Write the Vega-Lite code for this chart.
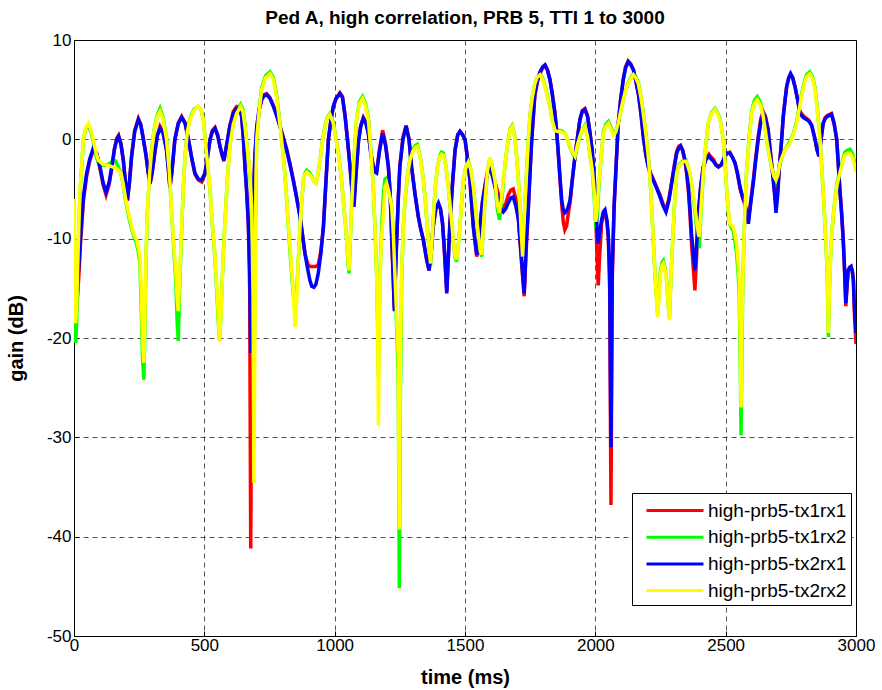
{
"$schema": "https://vega.github.io/schema/vega-lite/v6.json",
"width": 782, "height": 596,
"autosize": "none",
"padding": {"left": 74, "top": 40, "right": 26, "bottom": 54},
"background": "white",
"title": {"text": "Ped A, high correlation, PRB 5, TTI 1 to 3000", "font": "Liberation Sans", "fontSize": 19, "fontWeight": "bold", "color": "black", "offset": 3, "anchor": "middle"},
"config": {
  "view": {"stroke": "black", "strokeWidth": 1},
  "axis": {"grid": true, "gridColor": "#000000", "gridDash": [5, 4], "gridWidth": 0.8, "gridOpacity": 0.85, "domain": false, "ticks": true, "tickColor": "black", "tickSize": -5, "labelFont": "Liberation Sans", "labelFontSize": 17, "labelColor": "black", "titleFont": "Liberation Sans", "titleFontSize": 20, "titleFontWeight": "bold", "titleColor": "black"}
},
"datasets": {
"A": [
{"t":0,"b":-11,"r":-12},{"t":5,"b":-15,"r":-16.5},{"t":10,"b":-15.5,"r":-17.3},{"t":18,"b":-13,"r":-14},{"t":25,"b":-9.8,"r":-10.5},{"t":36,"b":-5.8,"r":-6.2},{"t":48,"b":-3.5,"r":-3.8},{"t":60,"b":-2,"r":-2.2},{"t":74,"b":-0.9,"r":-1.1},{"t":87,"b":-1.4,"r":-1.5},{"t":100,"b":-2.8,"r":-3},{"t":112,"b":-4.4,"r":-4.6},{"t":123,"b":-5.3,"r":-5.6},{"t":135,"b":-4.3,"r":-4.5},{"t":145,"b":-2.8,"r":-2.9},{"t":155,"b":-1,"r":-1},{"t":164,"b":0,"r":0.1},{"t":171,"b":0.3,"r":0.4},{"t":180,"b":-0.5,"r":-0.4},{"t":189,"b":-2.1,"r":-2},{"t":197,"b":-4.2,"r":-4.3},{"t":205,"b":-6.1,"r":-6.2},{"t":213,"b":-4.2,"r":-4.3},{"t":221,"b":-1.7,"r":-1.7},{"t":233,"b":0.8,"r":0.9},{"t":247,"b":2,"r":2.1},{"t":256,"b":1.5,"r":1.5},{"t":266,"b":0,"r":0.1},{"t":276,"b":-1.6,"r":-1.5},{"t":285,"b":-3.4,"r":-3.4},{"t":292,"b":-4.4,"r":-4.5},{"t":300,"b":-3.3,"r":-3.3},{"t":311,"b":-1.1,"r":-1.2},{"t":320,"b":0.4,"r":0.4},{"t":330,"b":1.1,"r":1.3},{"t":342,"b":0.6,"r":0.7},{"t":355,"b":-1.1,"r":-1.1},{"t":362,"b":-3,"r":-3},{"t":368,"b":-4.8,"r":-4.9},{"t":376,"b":-3.2,"r":-3.2},{"t":387,"b":0,"r":0},{"t":400,"b":1.6,"r":1.6},{"t":413,"b":2.2,"r":2.3},{"t":426,"b":1.6,"r":1.7},{"t":439,"b":0,"r":0},{"t":452,"b":-1.9,"r":-2},{"t":464,"b":-3.4,"r":-3.5},{"t":477,"b":-4,"r":-4.1},{"t":490,"b":-4.1,"r":-4.3},{"t":502,"b":-3.4,"r":-3.6},{"t":512,"b":-1.8,"r":-1.9},{"t":522,"b":0,"r":0},{"t":531,"b":0.8,"r":0.9},{"t":541,"b":1.1,"r":1.2},{"t":552,"b":0.3,"r":0.4},{"t":560,"b":-0.7,"r":-0.7},{"t":568,"b":-1.5,"r":-1.6},{"t":575,"b":-2.1,"r":-2.2},{"t":586,"b":-0.5,"r":-0.5},{"t":598,"b":1.3,"r":1.4},{"t":611,"b":2.6,"r":2.8},{"t":624,"b":3.1,"r":3.3},{"t":634,"b":3.1,"r":3.3},{"t":643,"b":2.3,"r":2.5},{"t":650,"b":0,"r":0},{"t":656,"b":-2.8,"r":-2.7},{"t":663,"b":-5.5,"r":-5.5},{"t":669,"b":-8.5,"r":-8.7},{"t":674,"b":-13,"r":-15},{"t":678,"b":-21.5,"r":-41.2},{"t":682,"b":-14,"r":-20},{"t":688,"b":-6,"r":-7},{"t":694,"b":-1.5,"r":-2},{"t":701,"b":1.3,"r":1},{"t":710,"b":3,"r":2.9},{"t":720,"b":4,"r":4},{"t":730,"b":4.4,"r":4.5},{"t":739,"b":4.5,"r":4.6},{"t":752,"b":4.1,"r":4.2},{"t":765,"b":3.3,"r":3.4},{"t":777,"b":2.4,"r":2.5},{"t":790,"b":1.3,"r":1.4},{"t":803,"b":0.1,"r":0.2},{"t":816,"b":-1.1,"r":-1},{"t":828,"b":-2.5,"r":-2.4},{"t":841,"b":-4.1,"r":-4},{"t":854,"b":-5.9,"r":-5.8},{"t":867,"b":-7.8,"r":-7.7},{"t":876,"b":-9.5,"r":-9.5},{"t":886,"b":-11.5,"r":-11.5},{"t":896,"b":-13,"r":-12.5},{"t":905,"b":-14.2,"r":-12.8},{"t":912,"b":-14.8,"r":-12.8},{"t":920,"b":-14.9,"r":-12.8},{"t":928,"b":-14.6,"r":-12.8},{"t":937,"b":-13.5,"r":-12.6},{"t":947,"b":-11.5,"r":-11.3},{"t":957,"b":-8.8,"r":-8.7},{"t":966,"b":-4.5,"r":-4.5},{"t":976,"b":0,"r":0},{"t":986,"b":2,"r":2},{"t":995,"b":3.3,"r":3.3},{"t":1005,"b":4.1,"r":4.1},{"t":1020,"b":4.6,"r":4.7},{"t":1030,"b":4.2,"r":4.3},{"t":1040,"b":2.3,"r":2.4},{"t":1050,"b":-0.3,"r":-0.2},{"t":1059,"b":-2.8,"r":-2.8},{"t":1066,"b":-5,"r":-5},{"t":1074,"b":-6.8,"r":-6.6},{"t":1082,"b":-3.5,"r":-3.4},{"t":1091,"b":-0.3,"r":-0.3},{"t":1100,"b":1.3,"r":1.4},{"t":1110,"b":2.1,"r":2.2},{"t":1120,"b":1.6,"r":1.7},{"t":1129,"b":0.6,"r":0.7},{"t":1138,"b":-1.3,"r":-1.2},{"t":1148,"b":-2.8,"r":-2.7},{"t":1155,"b":-3.3,"r":-3.2},{"t":1161,"b":-3.4,"r":-3.2},{"t":1172,"b":-1.2,"r":-1},{"t":1184,"b":0.6,"r":0.9},{"t":1195,"b":-0.6,"r":-0.4},{"t":1206,"b":-2.8,"r":-2.7},{"t":1213,"b":-5.5,"r":-5.5},{"t":1219,"b":-10.1,"r":-10},{"t":1224,"b":-13.5,"r":-13.5},{"t":1229,"b":-17.3,"r":-17},{"t":1234,"b":-13,"r":-13},{"t":1238,"b":-10.1,"r":-10},{"t":1244,"b":-6,"r":-6},{"t":1250,"b":-2.8,"r":-2.7},{"t":1262,"b":0,"r":0.2},{"t":1274,"b":1.3,"r":1.4},{"t":1285,"b":0,"r":0.1},{"t":1295,"b":-2.8,"r":-2.7},{"t":1308,"b":-5.5,"r":-5.4},{"t":1321,"b":-7.8,"r":-7.8},{"t":1330,"b":-9,"r":-9},{"t":1340,"b":-10.1,"r":-10.1},{"t":1352,"b":-12,"r":-12},{"t":1362,"b":-13.2,"r":-13.2},{"t":1370,"b":-11.5,"r":-11.5},{"t":1378,"b":-8.8,"r":-8.8},{"t":1388,"b":-7,"r":-7},{"t":1398,"b":-6.4,"r":-6.5},{"t":1406,"b":-7,"r":-7},{"t":1414,"b":-8.5,"r":-8.5},{"t":1422,"b":-11.5,"r":-11.8},{"t":1430,"b":-15.5,"r":-15.3},{"t":1436,"b":-12,"r":-12},{"t":1442,"b":-8.5,"r":-8.5},{"t":1452,"b":-4.5,"r":-4.5},{"t":1462,"b":-1.1,"r":-1},{"t":1472,"b":0.4,"r":0.5},{"t":1481,"b":0.8,"r":0.8},{"t":1490,"b":0.5,"r":0.5},{"t":1500,"b":0,"r":0},{"t":1510,"b":-2,"r":-2},{"t":1519,"b":-4.1,"r":-4.2},{"t":1532,"b":-8.8,"r":-8.8},{"t":1545,"b":-11.6,"r":-11.8},{"t":1551,"b":-11,"r":-11},{"t":1557,"b":-8.8,"r":-9},{"t":1567,"b":-6.3,"r":-6.3},{"t":1577,"b":-4.8,"r":-4.5},{"t":1587,"b":-3.4,"r":-3.2},{"t":1596,"b":-2.8,"r":-2.7},{"t":1606,"b":-3.8,"r":-3.5},{"t":1615,"b":-4.8,"r":-4.3},{"t":1628,"b":-6.1,"r":-5.5},{"t":1638,"b":-7,"r":-6.5},{"t":1647,"b":-7.3,"r":-6.8},{"t":1656,"b":-7,"r":-6.5},{"t":1666,"b":-6.4,"r":-5.6},{"t":1676,"b":-5.9,"r":-5.1},{"t":1685,"b":-5.8,"r":-5},{"t":1695,"b":-6.7,"r":-6},{"t":1705,"b":-8.1,"r":-8},{"t":1717,"b":-12.1,"r":-12.5},{"t":1727,"b":-15.5,"r":-15.8},{"t":1735,"b":-10.5,"r":-11},{"t":1743,"b":-6.8,"r":-7},{"t":1749,"b":-3.5,"r":-3.6},{"t":1756,"b":0,"r":0},{"t":1768,"b":4.6,"r":4.4},{"t":1778,"b":6,"r":5.8},{"t":1788,"b":6.8,"r":6.6},{"t":1798,"b":7.3,"r":7.2},{"t":1807,"b":7.5,"r":7.4},{"t":1816,"b":7,"r":7},{"t":1826,"b":6,"r":6},{"t":1835,"b":4.5,"r":4.6},{"t":1845,"b":2.6,"r":2.7},{"t":1852,"b":0.6,"r":0.8},{"t":1858,"b":-1.4,"r":-1.5},{"t":1865,"b":-4,"r":-4.2},{"t":1871,"b":-6.1,"r":-6.5},{"t":1877,"b":-7.1,"r":-8.3},{"t":1883,"b":-7.4,"r":-9.1},{"t":1890,"b":-7.2,"r":-8.7},{"t":1896,"b":-6.8,"r":-7.5},{"t":1903,"b":-6.1,"r":-6.4},{"t":1912,"b":-4,"r":-4},{"t":1922,"b":-1.7,"r":-1.7},{"t":1932,"b":0.3,"r":0.3},{"t":1941,"b":2,"r":2},{"t":1950,"b":2.8,"r":2.9},{"t":1960,"b":3,"r":3.1},{"t":1970,"b":2.3,"r":2.4},{"t":1979,"b":0.7,"r":0.8},{"t":1988,"b":-1.1,"r":-1.2},{"t":1995,"b":-3.4,"r":-3.8},{"t":2002,"b":-6.8,"r":-8},{"t":2008,"b":-9.5,"r":-13},{"t":2011,"b":-10.5,"r":-14.7},{"t":2016,"b":-9.5,"r":-12},{"t":2024,"b":-8.1,"r":-8.5},{"t":2031,"b":-7.3,"r":-7.5},{"t":2037,"b":-7.1,"r":-7.3},{"t":2045,"b":-8.2,"r":-8.5},{"t":2050,"b":-9.8,"r":-10},{"t":2055,"b":-13.5,"r":-15},{"t":2060,"b":-31,"r":-36.8},{"t":2065,"b":-13,"r":-14},{"t":2072,"b":-6.8,"r":-6.8},{"t":2080,"b":-2.5,"r":-2.5},{"t":2088,"b":1.6,"r":1.6},{"t":2097,"b":4,"r":4},{"t":2107,"b":6,"r":6},{"t":2116,"b":7.2,"r":7.3},{"t":2126,"b":7.8,"r":7.9},{"t":2136,"b":7.5,"r":7.6},{"t":2146,"b":7,"r":7},{"t":2155,"b":5.9,"r":5.9},{"t":2165,"b":4.6,"r":4.6},{"t":2175,"b":2.6,"r":2.6},{"t":2184,"b":0.3,"r":0.3},{"t":2194,"b":-1.6,"r":-1.6},{"t":2203,"b":-2.8,"r":-2.7},{"t":2212,"b":-3.5,"r":-3.4},{"t":2222,"b":-4.1,"r":-4},{"t":2235,"b":-4.9,"r":-4.8},{"t":2248,"b":-5.8,"r":-5.6},{"t":2260,"b":-6.7,"r":-6.5},{"t":2271,"b":-7.3,"r":-7.1},{"t":2282,"b":-6.2,"r":-6},{"t":2293,"b":-4.4,"r":-4.3},{"t":2303,"b":-2.8,"r":-2.6},{"t":2312,"b":-1.4,"r":-1.2},{"t":2320,"b":-0.9,"r":-0.7},{"t":2327,"b":-0.7,"r":-0.6},{"t":2335,"b":-1.1,"r":-1.1},{"t":2344,"b":-2.1,"r":-2.2},{"t":2350,"b":-3.2,"r":-3.4},{"t":2357,"b":-4.8,"r":-5.2},{"t":2363,"b":-7,"r":-7.5},{"t":2369,"b":-9.5,"r":-10.5},{"t":2376,"b":-11.5,"r":-13},{"t":2382,"b":-13.2,"r":-15.2},{"t":2388,"b":-11,"r":-12},{"t":2395,"b":-7.4,"r":-7.8},{"t":2404,"b":-4.8,"r":-4.8},{"t":2414,"b":-2.8,"r":-2.8},{"t":2425,"b":-2,"r":-1.9},{"t":2436,"b":-1.7,"r":-1.5},{"t":2445,"b":-2,"r":-1.8},{"t":2453,"b":-2.2,"r":-2},{"t":2462,"b":-2.6,"r":-2.5},{"t":2472,"b":-2.8,"r":-2.7},{"t":2482,"b":-2.6,"r":-2.6},{"t":2491,"b":-2.1,"r":-2.1},{"t":2497,"b":-1.7,"r":-1.7},{"t":2506,"b":-1.4,"r":-1.4},{"t":2516,"b":-1.4,"r":-1.3},{"t":2526,"b":-1.8,"r":-1.8},{"t":2536,"b":-2.4,"r":-2.4},{"t":2545,"b":-3.4,"r":-3.4},{"t":2555,"b":-4.8,"r":-4.9},{"t":2565,"b":-5.8,"r":-5.9},{"t":2574,"b":-6.4,"r":-6.6},{"t":2581,"b":-7.5,"r":-7.6},{"t":2587,"b":-8.5,"r":-8.2},{"t":2596,"b":-6.5,"r":-6.2},{"t":2606,"b":-4.4,"r":-4.1},{"t":2615,"b":-2.2,"r":-1.9},{"t":2625,"b":0,"r":0.3},{"t":2635,"b":1.8,"r":2.1},{"t":2644,"b":2.6,"r":2.8},{"t":2653,"b":2.1,"r":2.3},{"t":2663,"b":0.9,"r":1},{"t":2672,"b":-1.5,"r":-1.4},{"t":2680,"b":-3.4,"r":-3.3},{"t":2687,"b":-5.3,"r":-5.2},{"t":2693,"b":-7.4,"r":-6.5},{"t":2700,"b":-5.5,"r":-5},{"t":2706,"b":-2.8,"r":-2.7},{"t":2714,"b":-0.3,"r":-0.3},{"t":2721,"b":2.3,"r":2.3},{"t":2728,"b":4,"r":4},{"t":2734,"b":5.3,"r":5.3},{"t":2742,"b":6.2,"r":6.2},{"t":2749,"b":6.6,"r":6.6},{"t":2757,"b":6.2,"r":6.2},{"t":2766,"b":5.3,"r":5.3},{"t":2776,"b":4,"r":4},{"t":2785,"b":2.6,"r":2.8},{"t":2797,"b":2.2,"r":2.4},{"t":2810,"b":2,"r":2.1},{"t":2820,"b":1.8,"r":1.9},{"t":2830,"b":1.4,"r":1.4},{"t":2843,"b":0,"r":0},{"t":2850,"b":-1,"r":-1},{"t":2858,"b":-1.7,"r":-1.7},{"t":2866,"b":0,"r":0},{"t":2874,"b":1.6,"r":1.6},{"t":2882,"b":2.1,"r":2.2},{"t":2890,"b":2.3,"r":2.4},{"t":2906,"b":2.5,"r":2.6},{"t":2916,"b":1.6,"r":1.6},{"t":2926,"b":0,"r":0},{"t":2932,"b":-2.5,"r":-2.4},{"t":2938,"b":-5.1,"r":-5},{"t":2945,"b":-7.5,"r":-7.5},{"t":2951,"b":-10.1,"r":-10.1},{"t":2956,"b":-13,"r":-13.2},{"t":2961,"b":-16.5,"r":-16.8},{"t":2966,"b":-14.5,"r":-14.6},{"t":2970,"b":-13.2,"r":-13.2},{"t":2976,"b":-12.9,"r":-12.9},{"t":2981,"b":-12.8,"r":-12.8},{"t":2986,"b":-13.3,"r":-13.3},{"t":2990,"b":-14.2,"r":-14.2},{"t":2994,"b":-17,"r":-17.5},{"t":3000,"b":-19.5,"r":-20.6}
],
"B": [
{"t":0,"y":-6,"g":-6},{"t":3,"y":-12,"g":-14},{"t":6,"y":-18.5,"g":-20.5},{"t":10,"y":-17,"g":-18.5},{"t":16,"y":-11,"g":-12},{"t":23,"y":-5.1,"g":-5.3},{"t":30,"y":-2.5,"g":-2.6},{"t":36,"y":0,"g":0},{"t":45,"y":1.2,"g":1.1},{"t":55,"y":1.6,"g":1.3},{"t":64,"y":1,"g":0.8},{"t":74,"y":0,"g":-0.2},{"t":84,"y":-1.3,"g":-1.6},{"t":93,"y":-2.1,"g":-2.3},{"t":110,"y":-2.5,"g":-2.6},{"t":125,"y":-2.6,"g":-2.6},{"t":140,"y":-2.7,"g":-2.4},{"t":150,"y":-2.8,"g":-2.1},{"t":160,"y":-2.9,"g":-2.2},{"t":170,"y":-3.1,"g":-2.8},{"t":180,"y":-3.4,"g":-3.4},{"t":189,"y":-4.5,"g":-4.6},{"t":198,"y":-6,"g":-6.2},{"t":215,"y":-8.1,"g":-8.4},{"t":230,"y":-9.6,"g":-9.8},{"t":240,"y":-10.1,"g":-10.5},{"t":248,"y":-11.1,"g":-11.5},{"t":253,"y":-11.8,"g":-12.5},{"t":258,"y":-15,"g":-17},{"t":263,"y":-20.2,"g":-22},{"t":268,"y":-22.5,"g":-24.2},{"t":272,"y":-18,"g":-19},{"t":276,"y":-12,"g":-12.5},{"t":281,"y":-7.4,"g":-7.5},{"t":290,"y":-3.5,"g":-3.6},{"t":298,"y":-1.1,"g":-1},{"t":307,"y":0.8,"g":0.9},{"t":318,"y":2.2,"g":2.3},{"t":330,"y":2.8,"g":3.1},{"t":342,"y":2,"g":2.2},{"t":355,"y":0,"g":0.1},{"t":365,"y":-3,"g":-3},{"t":375,"y":-7.4,"g":-7.6},{"t":384,"y":-11,"g":-11.5},{"t":391,"y":-13.5,"g":-14.5},{"t":396,"y":-16,"g":-18.5},{"t":400,"y":-17.3,"g":-20.3},{"t":405,"y":-14,"g":-15},{"t":413,"y":-8.8,"g":-9},{"t":420,"y":-4.5,"g":-4.5},{"t":426,"y":-1.7,"g":-1.7},{"t":435,"y":0.8,"g":0.9},{"t":445,"y":2,"g":2.1},{"t":460,"y":2.9,"g":3},{"t":477,"y":3.3,"g":3.3},{"t":487,"y":3,"g":3},{"t":496,"y":2,"g":2.1},{"t":502,"y":0.3,"g":0.4},{"t":512,"y":-2.4,"g":-2.5},{"t":522,"y":-5.1,"g":-5.2},{"t":531,"y":-8.5,"g":-8.7},{"t":541,"y":-11.8,"g":-12},{"t":548,"y":-15,"g":-15.5},{"t":554,"y":-17.9,"g":-18.5},{"t":558,"y":-20.4,"g":-20.2},{"t":562,"y":-18.5,"g":-18.5},{"t":566,"y":-16.2,"g":-16},{"t":572,"y":-12,"g":-12},{"t":579,"y":-8.5,"g":-8.4},{"t":588,"y":-4.2,"g":-4.1},{"t":598,"y":-0.7,"g":-0.6},{"t":611,"y":1.5,"g":1.6},{"t":624,"y":2.6,"g":2.8},{"t":639,"y":3.3,"g":3.5},{"t":648,"y":2.8,"g":3},{"t":656,"y":1.3,"g":1.5},{"t":665,"y":-1,"g":-1},{"t":675,"y":-3.4,"g":-3.5},{"t":682,"y":-7,"g":-8},{"t":687,"y":-16,"g":-18},{"t":690,"y":-34.6,"g":-25},{"t":694,"y":-20,"g":-15},{"t":698,"y":-4,"g":-4},{"t":701,"y":0,"g":0},{"t":710,"y":2.8,"g":2.9},{"t":720,"y":5,"g":5.2},{"t":735,"y":6.2,"g":6.4},{"t":752,"y":6.6,"g":6.8},{"t":765,"y":6,"g":6.2},{"t":777,"y":4.3,"g":4.5},{"t":790,"y":1.5,"g":1.7},{"t":803,"y":-1.7,"g":-1.6},{"t":812,"y":-4.5,"g":-4.5},{"t":822,"y":-8.5,"g":-8.7},{"t":832,"y":-12,"g":-12.5},{"t":841,"y":-15.2,"g":-15.5},{"t":848,"y":-18.9,"g":-17.5},{"t":852,"y":-17.5,"g":-16.5},{"t":861,"y":-11.8,"g":-12},{"t":870,"y":-7.5,"g":-7.6},{"t":880,"y":-4.1,"g":-4.1},{"t":886,"y":-3.5,"g":-3.4},{"t":893,"y":-3.3,"g":-3.1},{"t":902,"y":-3.5,"g":-3.3},{"t":912,"y":-3.8,"g":-3.7},{"t":920,"y":-4.2,"g":-4.2},{"t":928,"y":-4.4,"g":-4.4},{"t":936,"y":-3.5,"g":-3.5},{"t":944,"y":-2.1,"g":-2.1},{"t":953,"y":-0.3,"g":-0.2},{"t":963,"y":1.3,"g":1.4},{"t":972,"y":2.1,"g":2.2},{"t":982,"y":2.5,"g":2.6},{"t":995,"y":1.6,"g":1.7},{"t":1005,"y":0,"g":0.1},{"t":1014,"y":-1.4,"g":-1.3},{"t":1024,"y":-3.5,"g":-3.5},{"t":1033,"y":-6.1,"g":-6.1},{"t":1040,"y":-8,"g":-8.1},{"t":1046,"y":-10.1,"g":-10.2},{"t":1051,"y":-12,"g":-12.3},{"t":1055,"y":-13.2,"g":-13.5},{"t":1060,"y":-10,"g":-10.2},{"t":1065,"y":-6.8,"g":-6.8},{"t":1074,"y":-2,"g":-2},{"t":1084,"y":2,"g":2},{"t":1095,"y":3.6,"g":3.8},{"t":1107,"y":4.1,"g":4.3},{"t":1118,"y":3.4,"g":3.6},{"t":1129,"y":2,"g":2.2},{"t":1138,"y":-0.8,"g":-0.7},{"t":1148,"y":-4.8,"g":-4.8},{"t":1154,"y":-8.5,"g":-8.5},{"t":1161,"y":-13.5,"g":-13.5},{"t":1165,"y":-19,"g":-19},{"t":1168,"y":-28.8,"g":-24},{"t":1171,"y":-20,"g":-18},{"t":1176,"y":-12,"g":-12},{"t":1182,"y":-9,"g":-8},{"t":1187,"y":-7.5,"g":-5.5},{"t":1193,"y":-4.8,"g":-4},{"t":1199,"y":-4.4,"g":-3.9},{"t":1207,"y":-5.2,"g":-5},{"t":1213,"y":-6,"g":-6},{"t":1219,"y":-6.8,"g":-7},{"t":1225,"y":-9.5,"g":-10},{"t":1231,"y":-13.5,"g":-14},{"t":1238,"y":-18,"g":-19},{"t":1244,"y":-22,"g":-24},{"t":1248,"y":-39.3,"g":-45.2},{"t":1252,"y":-22,"g":-26},{"t":1257,"y":-13.5,"g":-14},{"t":1263,"y":-9,"g":-9},{"t":1270,"y":-6.1,"g":-6.1},{"t":1280,"y":-3.5,"g":-3.5},{"t":1289,"y":-2.1,"g":-2},{"t":1300,"y":-1.2,"g":-1},{"t":1310,"y":-0.8,"g":-0.6},{"t":1317,"y":-0.7,"g":-0.5},{"t":1328,"y":-1.8,"g":-1.7},{"t":1340,"y":-4.1,"g":-4},{"t":1348,"y":-6.2,"g":-6.2},{"t":1355,"y":-8.8,"g":-8.8},{"t":1362,"y":-11,"g":-11},{"t":1368,"y":-12.5,"g":-12.7},{"t":1375,"y":-9.5,"g":-9.5},{"t":1385,"y":-5.1,"g":-5.1},{"t":1394,"y":-2.8,"g":-2.8},{"t":1404,"y":-1.7,"g":-1.6},{"t":1410,"y":-1.5,"g":-1.3},{"t":1417,"y":-1.6,"g":-1.4},{"t":1426,"y":-2.6,"g":-2.6},{"t":1436,"y":-4.8,"g":-4.8},{"t":1446,"y":-7.5,"g":-7.6},{"t":1455,"y":-10.1,"g":-10.3},{"t":1462,"y":-11.7,"g":-11.9},{"t":1468,"y":-12.1,"g":-12.3},{"t":1475,"y":-10.5,"g":-10.5},{"t":1481,"y":-8.5,"g":-8.5},{"t":1488,"y":-6,"g":-6},{"t":1494,"y":-4.1,"g":-4.1},{"t":1503,"y":-2.9,"g":-2.8},{"t":1513,"y":-2.3,"g":-2.2},{"t":1522,"y":-3,"g":-3},{"t":1532,"y":-4.8,"g":-4.8},{"t":1542,"y":-7.5,"g":-7.5},{"t":1551,"y":-9.5,"g":-9.6},{"t":1558,"y":-11.2,"g":-11.3},{"t":1564,"y":-11.6,"g":-11.8},{"t":1570,"y":-9,"g":-9},{"t":1577,"y":-6.1,"g":-6.1},{"t":1587,"y":-3,"g":-3},{"t":1596,"y":-1.9,"g":-1.9},{"t":1605,"y":-2.8,"g":-2.8},{"t":1615,"y":-4.1,"g":-4.3},{"t":1624,"y":-6.5,"g":-7},{"t":1632,"y":-7.4,"g":-8.1},{"t":1640,"y":-6,"g":-6.5},{"t":1647,"y":-4.1,"g":-4.2},{"t":1657,"y":-1.8,"g":-1.8},{"t":1666,"y":0,"g":0},{"t":1674,"y":1,"g":1.1},{"t":1681,"y":1.3,"g":1.4},{"t":1690,"y":0.3,"g":0.4},{"t":1698,"y":-1.7,"g":-1.7},{"t":1705,"y":-4.2,"g":-4.2},{"t":1711,"y":-6.8,"g":-6.8},{"t":1716,"y":-9.5,"g":-9.5},{"t":1721,"y":-11.8,"g":-11.9},{"t":1728,"y":-7.5,"g":-7.5},{"t":1736,"y":-3.4,"g":-3.4},{"t":1742,"y":-0.5,"g":-0.5},{"t":1749,"y":2.3,"g":2.3},{"t":1758,"y":4.2,"g":4.2},{"t":1768,"y":5.6,"g":5.6},{"t":1778,"y":6.3,"g":6.3},{"t":1788,"y":6.5,"g":6.6},{"t":1797,"y":6.1,"g":6.2},{"t":1807,"y":5.3,"g":5.4},{"t":1816,"y":4.3,"g":4.4},{"t":1826,"y":3.3,"g":3.3},{"t":1835,"y":1.9,"g":1.9},{"t":1845,"y":0.9,"g":1},{"t":1855,"y":0.8,"g":0.9},{"t":1864,"y":0.8,"g":0.9},{"t":1874,"y":0.7,"g":0.8},{"t":1883,"y":0.6,"g":0.6},{"t":1893,"y":0,"g":0},{"t":1903,"y":-0.7,"g":-0.8},{"t":1912,"y":-1.3,"g":-1.4},{"t":1922,"y":-1.7,"g":-1.9},{"t":1932,"y":-0.5,"g":-0.6},{"t":1941,"y":0.3,"g":0.3},{"t":1950,"y":1,"g":1},{"t":1960,"y":1.3,"g":1.4},{"t":1970,"y":0.3,"g":0.3},{"t":1979,"y":-1.4,"g":-1.5},{"t":1988,"y":-3,"g":-3},{"t":1995,"y":-5,"g":-5.5},{"t":2002,"y":-8.3,"g":-9},{"t":2008,"y":-6.5,"g":-7.5},{"t":2013,"y":-4.5,"g":-5},{"t":2018,"y":-3.1,"g":-3.2},{"t":2025,"y":-1,"g":-1},{"t":2031,"y":0.6,"g":0.8},{"t":2040,"y":1.3,"g":1.5},{"t":2050,"y":1.6,"g":1.8},{"t":2060,"y":1,"g":1.2},{"t":2069,"y":0.4,"g":0.5},{"t":2078,"y":0.7,"g":0.8},{"t":2088,"y":1.6,"g":1.6},{"t":2097,"y":2.8,"g":2.8},{"t":2107,"y":4,"g":4},{"t":2116,"y":4.9,"g":4.9},{"t":2126,"y":5.6,"g":5.7},{"t":2136,"y":6.1,"g":6.2},{"t":2146,"y":6.5,"g":6.6},{"t":2155,"y":6.2,"g":6.3},{"t":2165,"y":5.6,"g":5.7},{"t":2175,"y":4.2,"g":4.3},{"t":2184,"y":2.6,"g":2.7},{"t":2194,"y":0.5,"g":0.5},{"t":2203,"y":-1.7,"g":-1.7},{"t":2210,"y":-4,"g":-4},{"t":2216,"y":-6.8,"g":-6.8},{"t":2221,"y":-9.5,"g":-9.5},{"t":2226,"y":-12.1,"g":-12.1},{"t":2232,"y":-15,"g":-15},{"t":2239,"y":-17.9,"g":-17.5},{"t":2245,"y":-15.5,"g":-15.2},{"t":2250,"y":-13.5,"g":-13.2},{"t":2256,"y":-12.7,"g":-12.4},{"t":2261,"y":-12.5,"g":-12.2},{"t":2268,"y":-13.2,"g":-13},{"t":2274,"y":-14.5,"g":-14.3},{"t":2279,"y":-16.5,"g":-16.5},{"t":2284,"y":-18.2,"g":-18},{"t":2290,"y":-14,"g":-14},{"t":2297,"y":-10.1,"g":-10.1},{"t":2304,"y":-6.5,"g":-6.4},{"t":2312,"y":-3.4,"g":-3.3},{"t":2322,"y":-2.6,"g":-2.5},{"t":2331,"y":-2.4,"g":-2.3},{"t":2340,"y":-2.2,"g":-2.1},{"t":2348,"y":-2.2,"g":-2.1},{"t":2355,"y":-2.7,"g":-2.7},{"t":2363,"y":-3.4,"g":-3.5},{"t":2372,"y":-4.8,"g":-5},{"t":2382,"y":-6.8,"g":-7.2},{"t":2390,"y":-8.5,"g":-9.3},{"t":2396,"y":-9.6,"g":-10.8},{"t":2399,"y":-9.8,"g":-10.8},{"t":2405,"y":-7,"g":-7.5},{"t":2414,"y":-3.4,"g":-3.5},{"t":2423,"y":-0.8,"g":-0.8},{"t":2433,"y":1.6,"g":1.6},{"t":2446,"y":2.6,"g":2.7},{"t":2459,"y":3,"g":3.1},{"t":2468,"y":2.6,"g":2.7},{"t":2478,"y":2,"g":2.1},{"t":2491,"y":0,"g":0},{"t":2498,"y":-2.5,"g":-2.5},{"t":2504,"y":-5.1,"g":-5.2},{"t":2510,"y":-7,"g":-7.2},{"t":2516,"y":-8.5,"g":-8.6},{"t":2522,"y":-8.7,"g":-8.9},{"t":2529,"y":-8.8,"g":-9.2},{"t":2536,"y":-9.6,"g":-10.3},{"t":2542,"y":-10.5,"g":-11.5},{"t":2548,"y":-12.5,"g":-13.5},{"t":2552,"y":-14.2,"g":-15.7},{"t":2556,"y":-20,"g":-22},{"t":2559,"y":-27,"g":-29.8},{"t":2563,"y":-18,"g":-20},{"t":2566,"y":-14,"g":-14},{"t":2570,"y":-10.1,"g":-10.3},{"t":2575,"y":-6.5,"g":-6.5},{"t":2580,"y":-3.4,"g":-3.3},{"t":2590,"y":0,"g":0.2},{"t":2600,"y":2.6,"g":2.8},{"t":2610,"y":3.6,"g":3.9},{"t":2621,"y":4,"g":4.3},{"t":2632,"y":3.5,"g":3.8},{"t":2642,"y":2.6,"g":2.8},{"t":2650,"y":1.3,"g":1.4},{"t":2657,"y":0,"g":0},{"t":2666,"y":-1.4,"g":-1.4},{"t":2676,"y":-2.8,"g":-2.8},{"t":2685,"y":-3.7,"g":-3.7},{"t":2693,"y":-4.1,"g":-4.2},{"t":2700,"y":-3.6,"g":-3.6},{"t":2708,"y":-2.4,"g":-2.5},{"t":2718,"y":-1.7,"g":-1.7},{"t":2727,"y":-1.1,"g":-1.1},{"t":2737,"y":-0.7,"g":-0.6},{"t":2747,"y":-0.4,"g":-0.2},{"t":2760,"y":0.5,"g":0.6},{"t":2772,"y":1.6,"g":1.8},{"t":2782,"y":3,"g":3.2},{"t":2791,"y":4.3,"g":4.5},{"t":2800,"y":5.4,"g":5.6},{"t":2810,"y":6.3,"g":6.5},{"t":2823,"y":6.6,"g":6.8},{"t":2833,"y":6.1,"g":6.3},{"t":2843,"y":5,"g":5.2},{"t":2852,"y":2.8,"g":3},{"t":2862,"y":0,"g":0.1},{"t":2870,"y":-3.5,"g":-3.5},{"t":2876,"y":-6,"g":-6},{"t":2881,"y":-8.5,"g":-8.7},{"t":2886,"y":-11,"g":-11.2},{"t":2890,"y":-13.5,"g":-14},{"t":2894,"y":-19.5,"g":-19.9},{"t":2898,"y":-15,"g":-15},{"t":2904,"y":-10.8,"g":-10.8},{"t":2911,"y":-8.2,"g":-8.2},{"t":2919,"y":-6.1,"g":-6.1},{"t":2928,"y":-4.5,"g":-4.3},{"t":2938,"y":-3.4,"g":-3.2},{"t":2948,"y":-2.4,"g":-2.2},{"t":2957,"y":-1.6,"g":-1.3},{"t":2967,"y":-1.4,"g":-1.1},{"t":2977,"y":-1.4,"g":-1},{"t":2987,"y":-1.8,"g":-1.5},{"t":2996,"y":-2.8,"g":-2.5},{"t":3000,"y":-3.3,"g":-3}
]
},
"encoding": {
  "x": {"field": "t", "type": "quantitative", "scale": {"domain": [0, 3000], "nice": false}, "axis": {"values": [0, 500, 1000, 1500, 2000, 2500, 3000], "title": "time (ms)", "labelExpr": "datum.value + ''", "labelPadding": 6, "titlePadding": 14, "labelFlush": false}}
},
"layer": [
  {"data": {"name": "A"}, "mark": {"type": "line", "strokeWidth": 3.5, "clip": true},
   "encoding": {
     "y": {"field": "r", "type": "quantitative", "scale": {"domain": [-50, 10], "nice": false}, "axis": {"values": [-50, -40, -30, -20, -10, 0, 10], "title": "gain (dB)", "labelExpr": "datum.value + ''", "labelPadding": 8, "titlePadding": 20, "labelFlush": false}},
     "color": {"datum": "high-prb5-tx1rx1", "type": "nominal",
       "scale": {"domain": ["high-prb5-tx1rx1", "high-prb5-tx1rx2", "high-prb5-tx2rx1", "high-prb5-tx2rx2"], "range": ["#ff0000", "#00ff00", "#0000ff", "#ffff00"]},
       "legend": {"orient": "none", "legendX": 558, "legendY": 453, "title": null, "symbolType": "M-0.25,0H4.5", "symbolSize": 576, "symbolStrokeWidth": 3, "labelFont": "Liberation Sans", "labelFontSize": 19, "labelColor": "black", "strokeColor": "black", "fillColor": "white", "padding": 4, "rowPadding": 2.7, "labelOffset": 45, "cornerRadius": 0}}
   }},
  {"data": {"name": "B"}, "mark": {"type": "line", "strokeWidth": 3.5, "clip": true},
   "encoding": {"y": {"field": "g", "type": "quantitative"}, "color": {"datum": "high-prb5-tx1rx2", "type": "nominal"}}},
  {"data": {"name": "A"}, "mark": {"type": "line", "strokeWidth": 3.5, "clip": true},
   "encoding": {"y": {"field": "b", "type": "quantitative"}, "color": {"datum": "high-prb5-tx2rx1", "type": "nominal"}}},
  {"data": {"name": "B"}, "mark": {"type": "line", "strokeWidth": 3.5, "clip": true},
   "encoding": {"y": {"field": "y", "type": "quantitative"}, "color": {"datum": "high-prb5-tx2rx2", "type": "nominal"}}}
]
}
